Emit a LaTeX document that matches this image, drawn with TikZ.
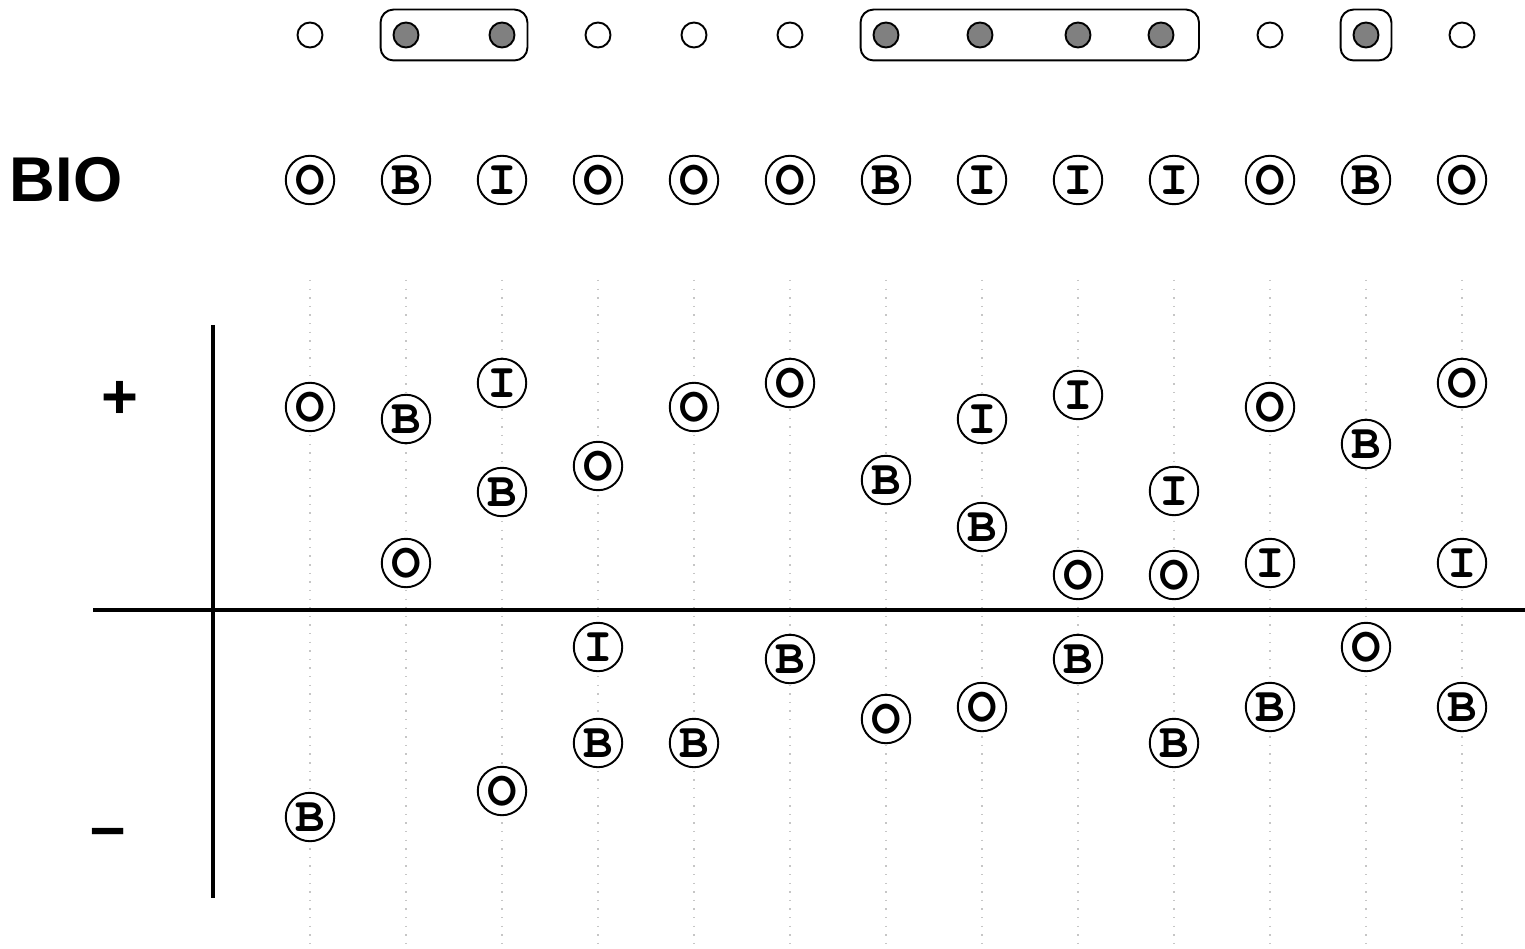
\documentclass[tikz,border=0pt]{standalone}
\usepackage{fontspec}
\setmainfont{Liberation Sans}
\newfontfamily\tagfont{texgyrecursor}[Extension=.otf,UprightFont=*-regular,BoldFont=*-bold]
\usepackage{tikz}
\usepackage{xcolor}
\usetikzlibrary{fit}

\tikzset{
  tag/.style={circle,draw,line width=1.1pt,fill=white,minimum size=0.97cm,inner sep=0pt,
    font=\tagfont\bfseries\fontsize{28}{30}\selectfont},
  tok/.style={circle,draw,line width=1.1pt,fill=white,minimum size=0.5cm,inner sep=0pt},
  ent/.style={tok,fill=gray},
  grp/.style={draw,line width=1.1pt,rounded corners=0.26cm,inner sep=0.24cm},
  guide/.style={gray!45,line width=0.6pt,dash pattern=on 0.8pt off 4.1pt},
  axis/.style={line width=2.3pt},
  big/.style={font=\bfseries\fontsize{36}{40}\selectfont}
}

\begin{document}
\begin{tikzpicture}[x=0.02cm,y=-0.02cm]
\useasboundingbox (0,0) rectangle (1525,949);

% guides
\draw[guide] (310,280) -- (310,949);
\draw[guide] (406,280) -- (406,949);
\draw[guide] (502,280) -- (502,949);
\draw[guide] (598,280) -- (598,949);
\draw[guide] (694,280) -- (694,949);
\draw[guide] (790,280) -- (790,949);
\draw[guide] (886,280) -- (886,949);
\draw[guide] (982,280) -- (982,949);
\draw[guide] (1078,280) -- (1078,949);
\draw[guide] (1174,280) -- (1174,949);
\draw[guide] (1270,280) -- (1270,949);
\draw[guide] (1366,280) -- (1366,949);
\draw[guide] (1462,280) -- (1462,949);

% tokens
\node[tok] (t1) at (310,35) {};
\node[ent] (t2) at (406,35) {};
\node[ent] (t3) at (502,35) {};
\node[tok] (t4) at (598,35) {};
\node[tok] (t5) at (694,35) {};
\node[tok] (t6) at (790,35) {};
\node[ent] (t7) at (886,35) {};
\node[ent] (t8) at (980,35) {};
\node[ent] (t9) at (1078,35) {};
\node[ent] (t10) at (1161,35) {};
\node[tok] (t11) at (1270,35) {};
\node[ent] (t12) at (1366,35) {};
\node[tok] (t13) at (1462,35) {};
\coordinate (g2r) at (1187,35);
\node[grp,fit=(t2)(t3)] (g1) {};
\node[grp,fit=(t7)(g2r)] (g2) {};
\node[grp,fit=(t12)] (g3) {};

% BIO row
\node[big] (bio) at (66,180) {BIO};
\node[tag] (b1) at (310,180) {O};
\node[tag] (b2) at (406,180) {B};
\node[tag] (b3) at (502,180) {I};
\node[tag] (b4) at (598,180) {O};
\node[tag] (b5) at (694,180) {O};
\node[tag] (b6) at (790,180) {O};
\node[tag] (b7) at (886,180) {B};
\node[tag] (b8) at (982,180) {I};
\node[tag] (b9) at (1078,180) {I};
\node[tag] (b10) at (1174,180) {I};
\node[tag] (b11) at (1270,180) {O};
\node[tag] (b12) at (1366,180) {B};
\node[tag] (b13) at (1462,180) {O};

% axes
\coordinate (ytop) at (213,325);
\coordinate (ybot) at (213,898);
\coordinate (xl) at (93,610);
\coordinate (xr) at (1525,610);
\draw[axis] (ytop) -- (ybot);
\draw[axis] (xl) -- (xr);
\node[big] (plus) at (120,400) {+};
\node[big] (minus) at (108,838) {--};

% scores
\node[tag] (p1a) at (310,407) {O};
\node[tag] (p1b) at (310,817) {B};
\node[tag] (p2a) at (406,419) {B};
\node[tag] (p2b) at (406,563) {O};
\node[tag] (p3a) at (502,383) {I};
\node[tag] (p3b) at (502,492) {B};
\node[tag] (p3c) at (502,791) {O};
\node[tag] (p4a) at (598,466) {O};
\node[tag] (p4b) at (598,647) {I};
\node[tag] (p4c) at (598,743) {B};
\node[tag] (p5a) at (694,407) {O};
\node[tag] (p5b) at (694,743) {B};
\node[tag] (p6a) at (790,383) {O};
\node[tag] (p6b) at (790,659) {B};
\node[tag] (p7a) at (886,480) {B};
\node[tag] (p7b) at (886,719) {O};
\node[tag] (p8a) at (982,419) {I};
\node[tag] (p8b) at (982,527) {B};
\node[tag] (p8c) at (982,707) {O};
\node[tag] (p9a) at (1078,395) {I};
\node[tag] (p9b) at (1078,575) {O};
\node[tag] (p9c) at (1078,659) {B};
\node[tag] (p10a) at (1174,491) {I};
\node[tag] (p10b) at (1174,575) {O};
\node[tag] (p10c) at (1174,743) {B};
\node[tag] (p11a) at (1270,407) {O};
\node[tag] (p11b) at (1270,563) {I};
\node[tag] (p11c) at (1270,707) {B};
\node[tag] (p12a) at (1366,444) {B};
\node[tag] (p12b) at (1366,647) {O};
\node[tag] (p13a) at (1462,383) {O};
\node[tag] (p13b) at (1462,563) {I};
\node[tag] (p13c) at (1462,707) {B};
\end{tikzpicture}
\end{document}
